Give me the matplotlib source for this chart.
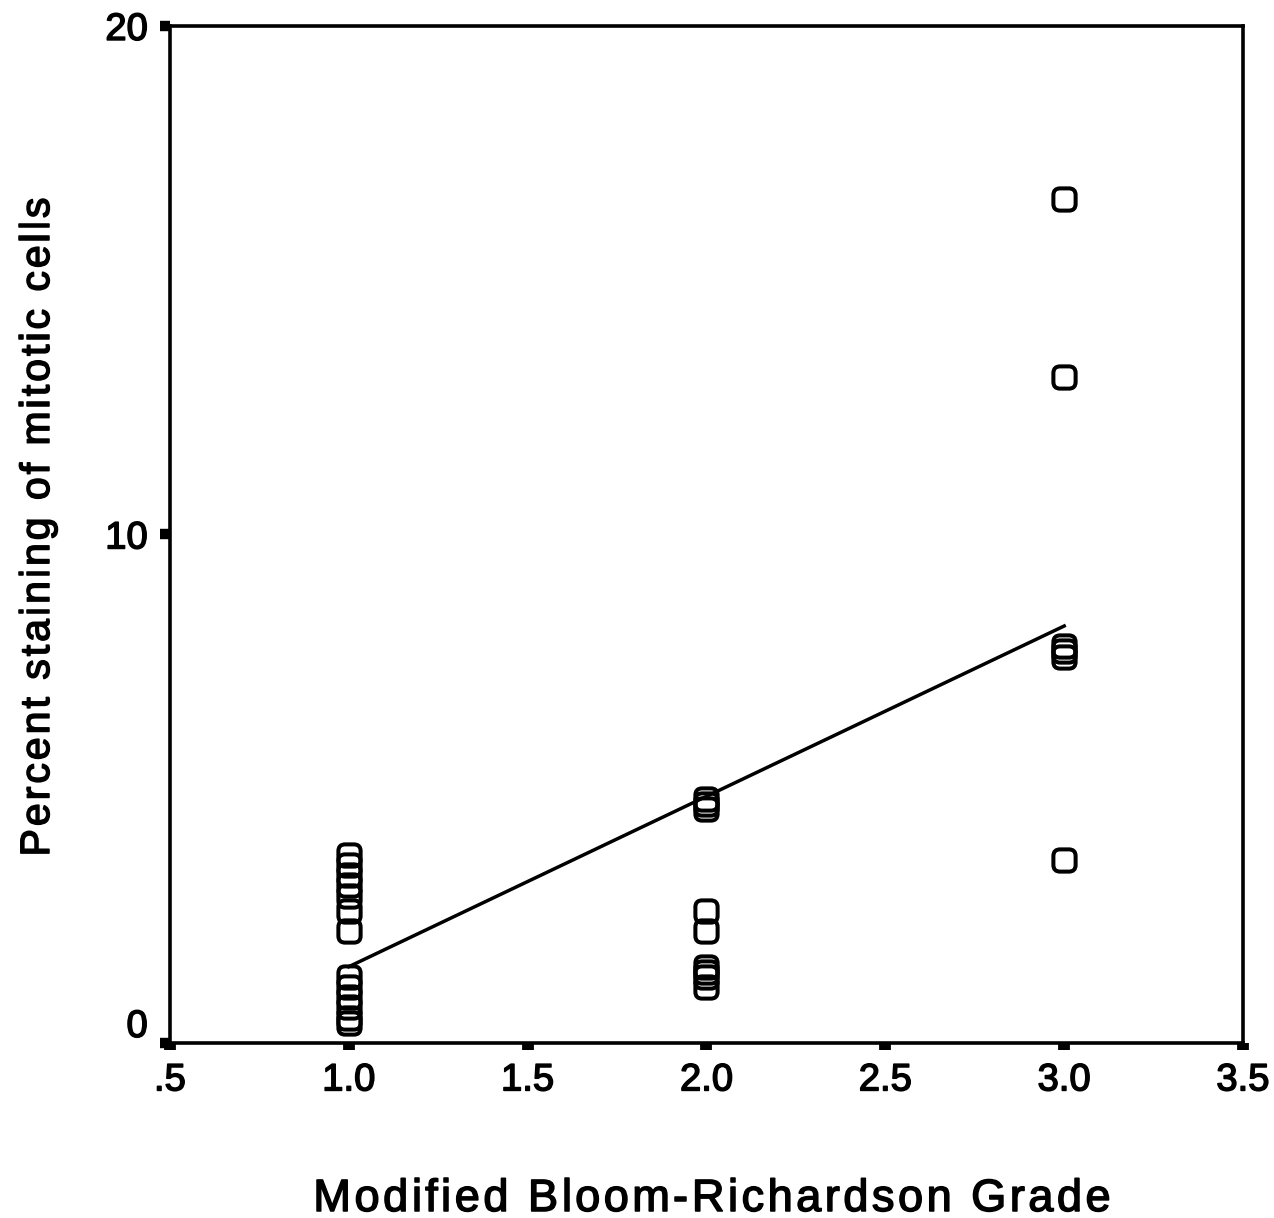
import numpy as np
import matplotlib
matplotlib.use("Agg")
import matplotlib.pyplot as plt
import matplotlib.patches as mpatches
import matplotlib.patheffects as pe
from matplotlib.transforms import ScaledTranslation
from matplotlib.font_manager import FontProperties, findfont
from matplotlib.ft2font import FT2Font

plt.rcParams['font.family'] = ['Liberation Sans', 'DejaVu Sans']

# Percent staining of mitotic cells per tumour, grouped by grade
grade1 = [3.7, 3.5, 3.3, 3.1, 2.9, 2.6, 2.2, 1.3, 1.1, 0.9, 0.7, 0.5, 0.4]
grade2 = [4.8, 4.7, 4.6, 2.6, 2.2, 1.5, 1.4, 1.3, 1.1]
grade3 = [16.6, 13.1, 7.8, 7.7, 7.6, 3.6]

# linear fit drawn over the grades 1..3
fit_intercept = -1.85
fit_slope = 3.35
fit_range = [1.0, 3.0]

xticks = [0.5, 1.0, 1.5, 2.0, 2.5, 3.0, 3.5]
xticklabels = ['.5', '1.0', '1.5', '2.0', '2.5', '3.0', '3.5']
yticks = [0, 10, 20]

xlabel = 'Modified Bloom-Richardson Grade'
ylabel = 'Percent staining of mitotic cells'

grades = [1.0] * len(grade1) + [2.0] * len(grade2) + [3.0] * len(grade3)
staining = grade1 + grade2 + grade3

DPI = 100
heavy = [pe.withStroke(linewidth=1.1, foreground='black')]


def spaced_text(fig, cx, cy, s, size, track, vertical=False):
    """Texto con espaciado extra entre letras, centrado en (cx, cy) en px."""
    fp = FontProperties(family='Liberation Sans', size=size)
    font = FT2Font(findfont(fp))
    font.set_size(size, DPI)
    adv = [font.load_char(ord(c)).linearHoriAdvance / 65536.0 for c in s]
    total = sum(adv) + track * (len(s) - 1)
    W, H = fig.get_size_inches() * DPI
    pos = -total / 2.0
    for c, a in zip(s, adv):
        mid = pos + a / 2.0
        if vertical:
            x, y = cx, cy - mid
            fig.text(x / W, 1 - y / H, c, ha='center', va='center', rotation=90,
                     fontproperties=fp, path_effects=heavy)
        else:
            x, y = cx + mid, cy
            fig.text(x / W, 1 - y / H, c, ha='center', va='baseline',
                     fontproperties=fp, path_effects=heavy)
        pos += a + track


# rounded square marker
box = mpatches.BoxStyle.Round(pad=0, rounding_size=0.3)
rsq = box(-0.5, -0.5, 1.0, 1.0, 1.0)

fig = plt.figure(figsize=(12.74, 12.18), dpi=DPI)
ax = fig.add_axes([0.1334, 0.1437, 0.8423, 0.8350])

fx = np.array(fit_range)
ax.plot(fx, fit_intercept + fit_slope * fx, color='black', lw=2.5)
ax.plot(grades, staining, linestyle='none', marker=rsq, markersize=16,
        markerfacecolor='none', markeredgecolor='black', markeredgewidth=2.9)

ax.set_xlim(0.5, 3.5)
ax.set_ylim(0, 20)
ax.set_xticks(xticks)
ax.set_xticklabels(xticklabels)
ax.set_yticks(yticks)

for s in ax.spines.values():
    s.set_linewidth(2.6)

ax.tick_params(axis='x', direction='out', length=5, width=8.5, pad=9,
               labelsize=27.5)
ax.tick_params(axis='y', direction='out', length=7, width=7.5, pad=9,
               labelsize=27.5)
for lbl in ax.get_xticklabels() + ax.get_yticklabels():
    lbl.set_path_effects(heavy)

# SPSS style: the zero label sits a bit above its tick
lbl0 = ax.get_yticklabels()[0]
lbl0.set_transform(lbl0.get_transform() + ScaledTranslation(0, 0.2, fig.dpi_scale_trans))

spaced_text(fig, 712, 1211, xlabel, 32.5, 3.5)
spaced_text(fig, 38, 527, ylabel, 29.5, 3.0, vertical=True)

fig.savefig('out.png', dpi=DPI)
